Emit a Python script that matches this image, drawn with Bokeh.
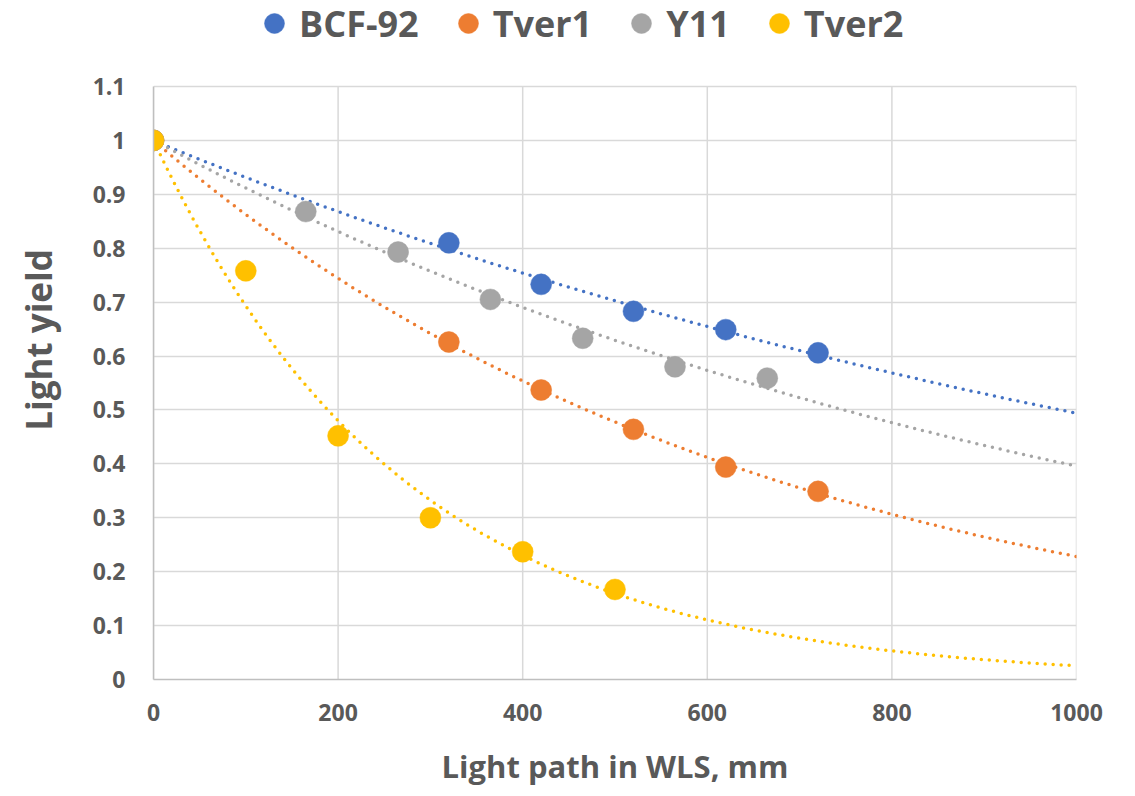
import numpy as np
from bokeh.plotting import figure
from bokeh.models import (Legend, LegendItem, FixedTicker,
                          CustomJSTickFormatter, Range1d)
from bokeh.embed import file_html
from bokeh.resources import INLINE

# ---- data ----
series_names = ["BCF-92", "Tver1", "Y11", "Tver2"]
bcf_x = [0, 320, 420, 520, 620, 720]
bcf_y = [1.0, 0.810, 0.733, 0.683, 0.649, 0.606]
tver1_x = [0, 320, 420, 520, 620, 720]
tver1_y = [1.0, 0.626, 0.537, 0.464, 0.394, 0.349]
y11_x = [0, 165, 265, 365, 465, 565, 665]
y11_y = [1.0, 0.868, 0.793, 0.705, 0.633, 0.580, 0.559]
tver2_x = [0, 100, 200, 300, 400, 500]
tver2_y = [1.0, 0.758, 0.452, 0.300, 0.237, 0.167]
x_ticks = [0, 200, 400, 600, 800, 1000]
y_ticks = [0, 0.1, 0.2, 0.3, 0.4, 0.5, 0.6, 0.7, 0.8, 0.9, 1.0, 1.1]

colors = ["#4472C4", "#ED7D31", "#A5A5A5", "#FFC000"]
FONT = "Open Sans"
TXT = "#595959"

W, H = 1135, 796
LEFT, RIGHT, BOTTOM = 153, 59, 117
PLOT_TOP = 86  # pixel row of the 1.1 gridline
frame_h = H - BOTTOM
y_lo, y_hi = y_ticks[0], y_ticks[-1]
# frame reaches the top of the canvas so that the legend (drawn inside it) is not clipped
y_top = y_hi * frame_h / (frame_h - PLOT_TOP)

p = figure(width=W, height=H, output_backend="svg", toolbar_location=None,
           x_range=Range1d(x_ticks[0], x_ticks[-1]), y_range=Range1d(y_lo, y_top),
           min_border_left=LEFT, min_border_right=RIGHT,
           min_border_top=0, min_border_bottom=BOTTOM)
p.outline_line_color = None
p.background_fill_color = "white"
p.border_fill_color = "white"

for ax in (p.xaxis[0], p.yaxis[0]):
    ax.axis_line_color = "#BFBFBF"
    ax.axis_line_width = 1.5
    ax.major_tick_line_color = None
    ax.minor_tick_line_color = None
    ax.major_label_text_font = FONT
    ax.major_label_text_font_style = "bold"
    ax.major_label_text_font_size = "23px"
    ax.major_label_text_color = TXT
    ax.axis_label_text_font = FONT
    ax.axis_label_text_font_style = "bold"
    ax.axis_label_text_color = TXT

p.xaxis.axis_label_text_font_size = "31px"
p.yaxis.axis_label_text_font_size = "35px"
p.yaxis.bounds = (y_lo, y_hi)
p.xaxis.ticker = FixedTicker(ticks=x_ticks)
p.yaxis.ticker = FixedTicker(ticks=y_ticks)
p.yaxis.formatter = CustomJSTickFormatter(code="return tick.toFixed(1).replace(/\\.0$/, '');")
p.xaxis.major_label_standoff = 18
p.yaxis.major_label_standoff = 22
p.xaxis.axis_label = "Light path in WLS, mm"
p.yaxis.axis_label = "Light yield"
p.xaxis.axis_label_standoff = 21
p.yaxis.axis_label_standoff = 28

p.xgrid.visible = False
p.ygrid.grid_line_color = "#D9D9D9"
p.ygrid.grid_line_width = 1.5

# vertical gridlines limited to the plotted value range
p.segment(x0=x_ticks, y0=[y_lo] * len(x_ticks), x1=x_ticks, y1=[y_hi] * len(x_ticks),
          line_color="#D9D9D9", line_width=1.5)

all_x = [bcf_x, tver1_x, y11_x, tver2_x]
all_y = [bcf_y, tver1_y, y11_y, tver2_y]

# exponential trendlines (least-squares fit of ln y, as a spreadsheet does)
xs_fit = np.linspace(x_ticks[0], x_ticks[-1], 300)
for xs, ys, c in zip(all_x, all_y, colors):
    b, lna = np.polyfit(np.array(xs, float), np.log(np.array(ys, float)), 1)
    p.line(xs_fit, np.exp(lna) * np.exp(b * xs_fit), line_color=c,
           line_width=3.5, line_dash="0 8", line_cap="round")

items = []
for name, xs, ys, c in zip(series_names, all_x, all_y, colors):
    r = p.scatter(xs, ys, size=21, fill_color=c, line_color=c, line_width=0.5)
    items.append(LegendItem(label=name, renderers=[r]))

legend = Legend(items=items, orientation="horizontal",
                location=(96, frame_h - 48), glyph_width=50, glyph_height=50,
                label_standoff=0, spacing=24, padding=0, margin=0,
                label_text_font=FONT, label_text_font_style="bold",
                label_text_font_size="36px", label_text_color=TXT,
                label_text_baseline="middle",
                background_fill_alpha=0, border_line_color=None)
p.add_layout(legend, "center")

open("out.html", "w").write(file_html(p, INLINE))
